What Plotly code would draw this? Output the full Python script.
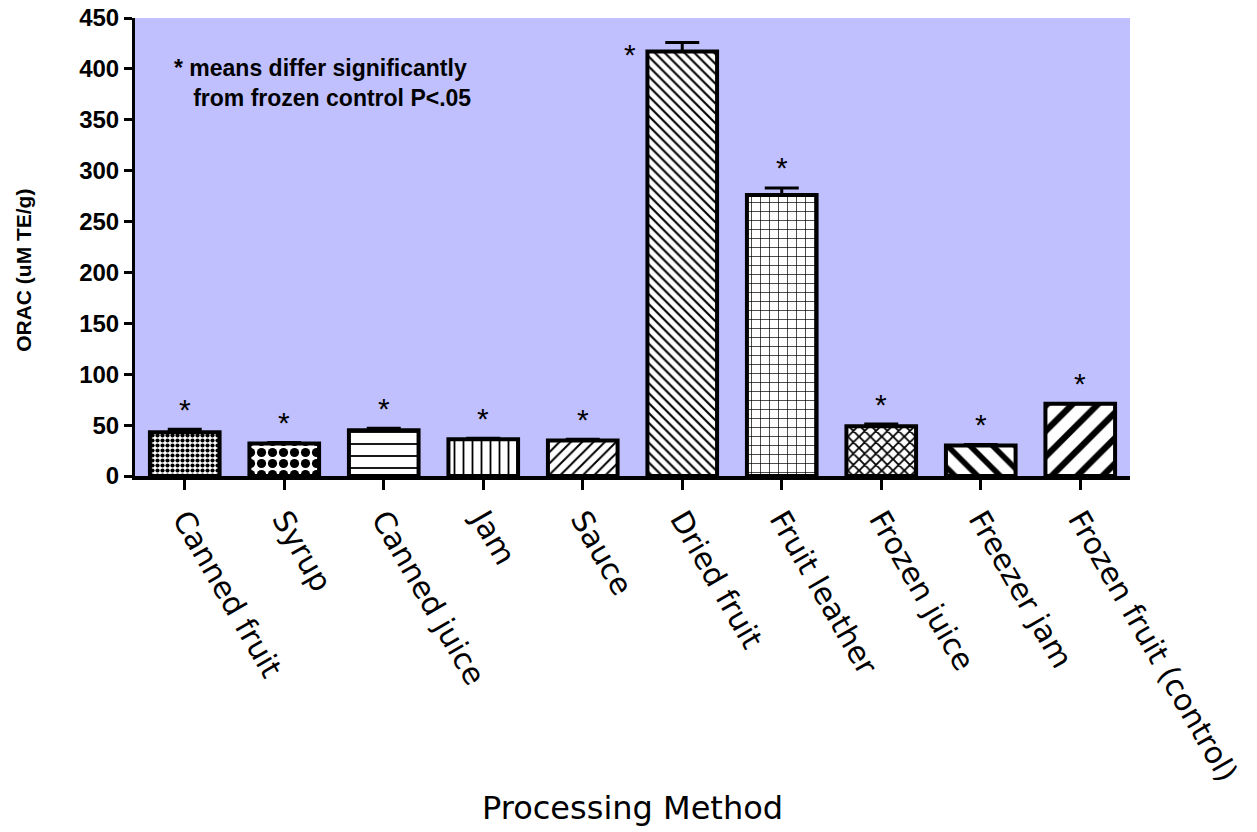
import plotly.graph_objects as go

categories = ["Canned fruit", "Syrup", "Canned juice", "Jam", "Sauce",
              "Dried fruit", "Fruit leather", "Frozen juice", "Freezer jam",
              "Frozen fruit (control)"]
orac_values = [43, 32, 45, 36, 35, 417, 276, 49, 30, 71]
orac_errors = [3, 1, 2, 1, 1, 9, 7, 2, 1, 0]
significant = [True] * 10
y_ticks = [0, 50, 100, 150, 200, 250, 300, 350, 400, 450]

pattern_shapes = [".", ".", "-", "|", "/", "\\", "+", "x", "\\", "/"]
pattern_sizes = [5, 11, 12, 9, 8, 7, 9, 8, 16, 18]
pattern_solid = [0.55, 0.55, 0.15, 0.2, 0.25, 0.3, 0.15, 0.4, 0.35, 0.35]

fig = go.Figure()
fig.add_trace(go.Bar(
    x=categories, y=orac_values, width=0.7,
    marker=dict(color="white",
                line=dict(color="black", width=4),
                pattern=dict(shape=pattern_shapes, size=pattern_sizes,
                             solidity=pattern_solid, fgcolor="black",
                             bgcolor="white", fillmode="replace")),
    error_y=dict(type="data", symmetric=False, array=orac_errors,
                 arrayminus=[0] * 10, color="black", thickness=3, width=17),
    showlegend=False,
))

star_font = dict(size=30, color="black", family="Arial, Liberation Sans")
for i, (c, v, e, s) in enumerate(zip(categories, orac_values, orac_errors, significant)):
    if not s:
        continue
    if c == "Dried fruit":
        fig.add_annotation(x=c, y=v, text="*", showarrow=False, xshift=-52,
                           yshift=-3, font=star_font)
    else:
        fig.add_annotation(x=c, y=v + e, text="*", showarrow=False, yshift=20,
                           font=star_font)

fig.add_annotation(xref="paper", yref="paper", x=0.037, y=0.9225, xanchor="left",
                   yanchor="top", align="left", showarrow=False,
                   text="* means differ significantly<br>\u00a0\u00a0\u00a0from frozen control P<.05",
                   font=dict(size=23, color="black", family="Arial, Liberation Sans", weight="bold"))

fig.add_annotation(xref="paper", yref="paper", x=-0.1116, y=0.45, textangle=-90,
                   xanchor="center", yanchor="middle",
                   showarrow=False, text="ORAC (uM TE/g)",
                   font=dict(size=21, color="black", family="Arial, Liberation Sans", weight="bold"))

fig.add_annotation(xref="paper", yref="paper", x=0.5, y=-0.725, showarrow=False,
                   xanchor="center", yanchor="middle",
                   text="Processing Method",
                   font=dict(size=32, color="black", family="DejaVu Sans"))

fig.update_layout(
    width=1257, height=832,
    margin=dict(l=135, r=127, t=18, b=356, autoexpand=False),
    paper_bgcolor="white", plot_bgcolor="#C0C0FF",
    xaxis=dict(range=[-0.5, 9.5], showline=True, linecolor="black", linewidth=4,
               ticks="outside", ticklen=10, tickwidth=3, tickcolor="black",
               tickangle=60, showgrid=False, zeroline=False, automargin=False,
               tickfont=dict(size=30, color="black", family="DejaVu Sans")),
    yaxis=dict(range=[0, 450], tickvals=y_ticks, showline=True, linecolor="black",
               linewidth=3, ticks="outside", ticklen=8, tickwidth=3,
               tickcolor="black", showgrid=False, zeroline=False, automargin=False,
               tickfont=dict(size=24, color="black", family="Arial, Liberation Sans", weight="bold")),
)

fig.write_html("out.html")
